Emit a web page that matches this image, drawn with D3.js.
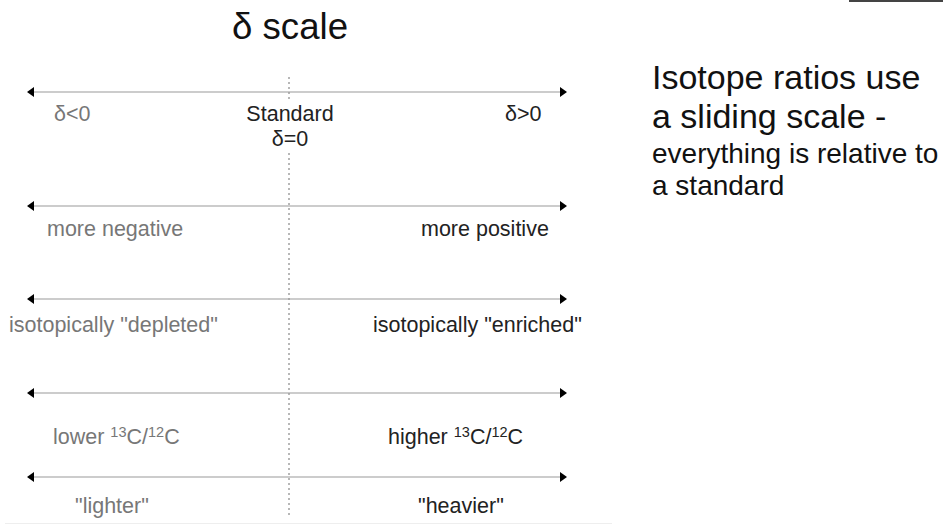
<!DOCTYPE html>
<html><head><meta charset="utf-8">
<script src="https://cdn.jsdelivr.net/npm/d3@7/dist/d3.min.js"></script>
<style>
html,body{margin:0;padding:0;background:#fff;}
svg{display:block;font-family:"Liberation Sans",Arial,sans-serif;}
</style></head>
<body><svg id="c" width="943" height="525"></svg>
<script>
// data
const title = "δ scale";
const rows = ["sign", "sign2", "isotopic", "ratio", "mass"];
const leftLabels = ["δ<0", "more negative", "isotopically \"depleted\"", "lower |13|C/|12|C", "\"lighter\""];
const rightLabels = ["δ>0", "more positive", "isotopically \"enriched\"", "higher |13|C/|12|C", "\"heavier\""];
const centerLabels = ["Standard", "δ=0"];
const noteLines = ["Isotope ratios use", "a sliding scale -", "everything is relative to", "a standard"];

// layout
const svg = d3.select("#c");
const x = d3.scaleLinear().domain([-1, 0, 1]).range([27, 289, 567]);
const yArrow = d3.scaleOrdinal().domain(rows).range([92, 206, 299, 393, 477]);
const yText = d3.scaleOrdinal().domain(rows).range([121, 236, 332, 444, 513]);
const leftX = [54, 47, 9, 53, 75];
const rightX = [505, 421, 373, 388, 418];
const fs = 21.5;

// decorations
svg.append("rect").attr("x", 849).attr("y", 0).attr("width", 94).attr("height", 2).attr("fill", "#444");
svg.append("line").attr("x1", 5).attr("x2", 612).attr("y1", 523.5).attr("y2", 523.5).attr("stroke", "#eee");

// title
svg.append("text").attr("x", 232).attr("y", 39)
  .attr("font-size", 37).attr("fill", "#111")
  .attr("textLength", 116).attr("lengthAdjust", "spacingAndGlyphs").text(title);

// center dotted line (broken behind the Standard label)
[[77, 99], [153, 516]].forEach(([a, b]) => {
  svg.append("line").attr("x1", x(0)).attr("x2", x(0)).attr("y1", a).attr("y2", b)
    .attr("stroke", "#888").attr("stroke-width", 1.2).attr("stroke-dasharray", "2,3");
});

// arrows
const g = svg.append("g");
rows.forEach((r, i) => {
  const y = yArrow(r);
  g.append("line").attr("x1", x(-1) + 4).attr("x2", x(1) - 4).attr("y1", y).attr("y2", y)
    .attr("stroke", "#999").attr("stroke-width", 1.2);
  g.append("path").attr("d", `M${x(-1)},${y}L${x(-1) + 7},${y - 5}L${x(-1) + 7},${y + 5}Z`).attr("fill", "#000");
  g.append("path").attr("d", `M${x(1)},${y}L${x(1) - 7},${y - 5}L${x(1) - 7},${y + 5}Z`).attr("fill", "#000");
});

function label(str, xx, yy, color) {
  const t = svg.append("text").attr("x", xx).attr("y", yy).attr("font-size", fs).attr("fill", color);
  str.split("|").forEach((part, k) => {
    if (!part) return;
    const sup = k % 2 === 1;
    t.append("tspan").attr("font-size", sup ? 14.5 : fs).attr("dy", sup ? -7 : (k > 0 ? 7 : 0)).text(part);
  });
  return t;
}
rows.forEach((r, i) => {
  label(leftLabels[i], leftX[i], yText(r), "#777");
  label(rightLabels[i], rightX[i], yText(r), "#222");
});

// center labels
svg.append("text").attr("x", x(0) + 1).attr("y", 121).attr("text-anchor", "middle").attr("font-size", fs).attr("fill", "#222").text(centerLabels[0]);
svg.append("text").attr("x", x(0) + 1).attr("y", 146).attr("text-anchor", "middle").attr("font-size", fs).attr("fill", "#222").text(centerLabels[1]);

// note
const noteY = [89, 128, 163, 195];
const noteFs = [34, 34, 28, 28];
noteLines.forEach((s, i) => {
  svg.append("text").attr("x", 652).attr("y", noteY[i]).attr("font-size", noteFs[i]).attr("fill", "#111").text(s);
});
</script></body></html>
